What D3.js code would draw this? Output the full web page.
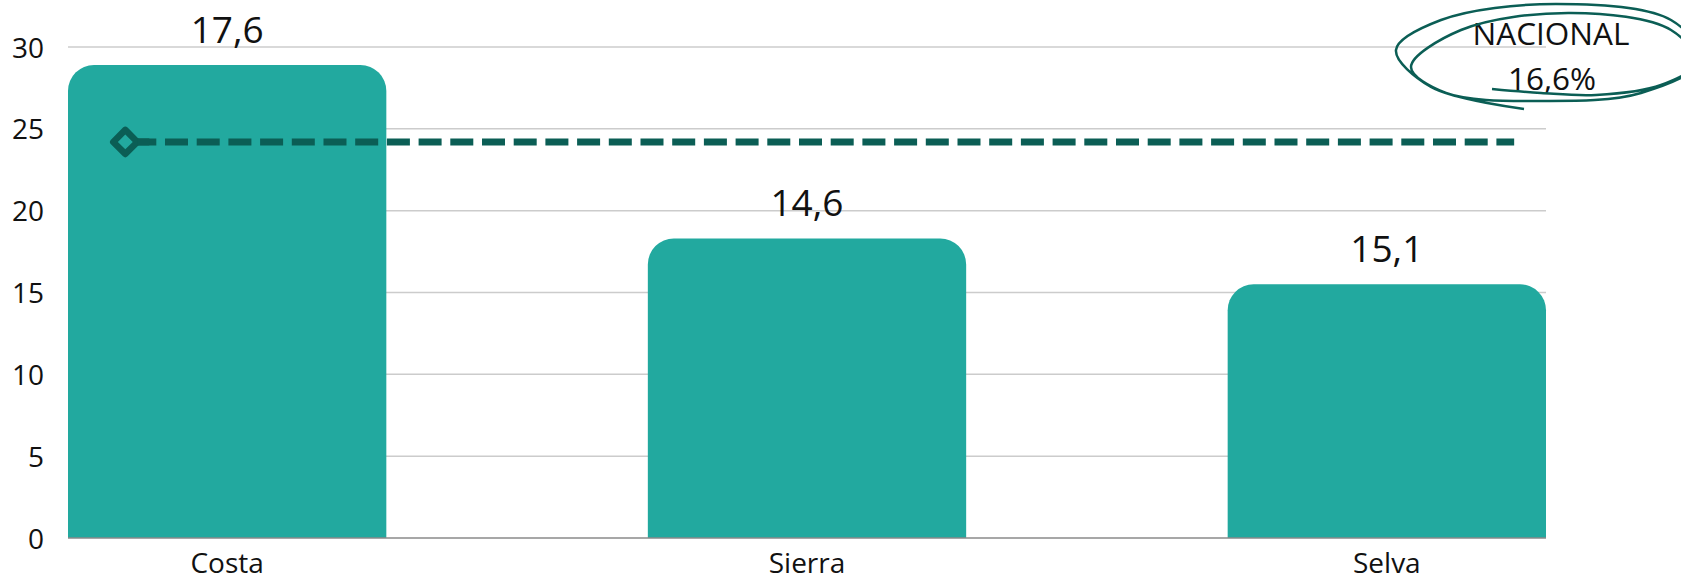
<!DOCTYPE html>
<html>
<head>
<meta charset="utf-8">
<script src="https://cdn.jsdelivr.net/npm/d3@7"></script>
<style>
  html, body { margin: 0; padding: 0; background: #fff; }
  svg { display: block; font-family: "Open Sans", "Noto Sans", sans-serif; }
</style>
</head>
<body>
<svg id="chart" width="1681" height="581"></svg>
<script>
"use strict";

// data
var categories = ["Costa", "Sierra", "Selva"];
var barValues = [28.9, 18.3, 15.5];
var barLabels = ["17,6", "14,6", "15,1"];
var yTicks = [0, 5, 10, 15, 20, 25, 30];
var nacionalValue = 24.2;
var nacionalTitle = "NACIONAL";
var nacionalLabel = "16,6%";

var svg = d3.select("#chart");
var plotLeft = 68, plotRight = 1546, plotTop = 47, plotBottom = 538;

var x = d3.scaleBand().domain(categories).range([plotLeft, plotRight])
    .paddingInner(0.451).paddingOuter(0);
var y = d3.scaleLinear().domain([0, 30]).range([plotBottom, plotTop]);

// grid
svg.append("g").selectAll("line").data(yTicks.filter(function (d) { return d > 0; }))
    .enter().append("line")
    .attr("x1", plotLeft).attr("x2", plotRight)
    .attr("y1", function (d) { return y(d); })
    .attr("y2", function (d) { return y(d); })
    .attr("stroke", "#cccccc").attr("stroke-width", 1.5);

// y labels
var yAxis = d3.axisLeft(y).tickValues(yTicks).tickSize(0).tickPadding(0);
var gY = svg.append("g").attr("transform", "translate(44,0)").call(yAxis);
gY.select(".domain").remove();
gY.selectAll("text").attr("font-size", 28).attr("fill", "#111")
    .attr("font-family", "Open Sans").attr("dy", "0.36em");

// bars with rounded top corners
var r = 26;
function barPath(d, i) {
    var x0 = x(categories[i]), w = x.bandwidth();
    var yt = y(d), yb = y(0);
    var p = d3.path();
    p.moveTo(x0, yb);
    p.lineTo(x0, yt + r);
    p.arcTo(x0, yt, x0 + r, yt, r);
    p.lineTo(x0 + w - r, yt);
    p.arcTo(x0 + w, yt, x0 + w, yt + r, r);
    p.lineTo(x0 + w, yb);
    p.closePath();
    return p.toString();
}
svg.append("g").selectAll("path").data(barValues).enter().append("path")
    .attr("d", barPath)
    .attr("fill", "#22a99f");

// baseline
svg.append("line").attr("x1", plotLeft).attr("x2", plotRight)
    .attr("y1", y(0)).attr("y2", y(0))
    .attr("stroke", "#8a8a8a").attr("stroke-width", 1.5);

// value labels
svg.append("g").selectAll("text").data(barValues).enter().append("text")
    .attr("x", function (d, i) { return x(categories[i]) + x.bandwidth() / 2; })
    .attr("y", function (d) { return y(d) - 22; })
    .attr("text-anchor", "middle")
    .attr("font-size", 37).attr("fill", "#111")
    .text(function (d, i) { return barLabels[i]; });

// x labels
var xAxis = d3.axisBottom(x).tickSize(0).tickPadding(0);
var gX = svg.append("g").attr("transform", "translate(0," + (y(0) + 35) + ")").call(xAxis);
gX.select(".domain").remove();
gX.selectAll("text").attr("font-size", 28).attr("fill", "#111")
    .attr("font-family", "Open Sans").attr("dy", 0);

// nacional reference line
var lineX0 = x("Costa") + x.bandwidth() * 0.18;
var lineX1 = x("Selva") + x.bandwidth() * 0.9;
var ny = y(nacionalValue);
svg.append("line")
    .attr("x1", lineX0).attr("x2", lineX1)
    .attr("y1", ny).attr("y2", ny)
    .attr("stroke", "#0b5e55").attr("stroke-width", 7)
    .attr("stroke-dasharray", "23 8.7")
    .attr("stroke-dashoffset", -8);
svg.append("path")
    .attr("d", d3.symbol().type(d3.symbolSquare).size(290)())
    .attr("transform", "translate(" + lineX0 + "," + ny + ") rotate(45)")
    .attr("fill", "none").attr("stroke", "#0b5e55").attr("stroke-width", 6.5)
    .attr("stroke-linejoin", "round");
svg.append("line")
    .attr("x1", lineX0 + 12).attr("x2", lineX0 + 24)
    .attr("y1", ny).attr("y2", ny)
    .attr("stroke", "#0b5e55").attr("stroke-width", 7);

// annotation
var ax = plotRight + 5, ay = 55;
var ann = svg.append("g").attr("transform", "translate(" + ax + "," + ay + ")");
ann.append("text").attr("x", 0).attr("y", -10).attr("text-anchor", "middle")
    .attr("font-size", 31.5).attr("fill", "#111").text(nacionalTitle);
ann.append("text").attr("x", 1).attr("y", 35).attr("text-anchor", "middle")
    .attr("font-size", 31.5).attr("fill", "#111").text(nacionalLabel);

var loop = [[-59, 34], [-10, 38], [45, 40], [110, 30], [145, 8], [120, -25], [20, -42],
    [-90, -25], [-140, 12], [-105, 38], [-10, 46], [90, 38], [150, 5], [120, -35],
    [5, -51], [-110, -35], [-155, -5], [-120, 32], [-27, 54]];
ann.append("path")
    .attr("d", d3.line().curve(d3.curveCatmullRom)(loop))
    .attr("fill", "none").attr("stroke", "#0b5e55").attr("stroke-width", 2.5);
</script>
</body>
</html>
